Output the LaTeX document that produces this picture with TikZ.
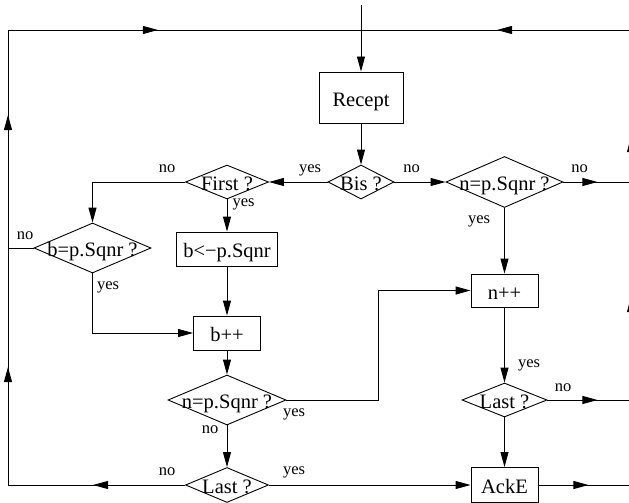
\documentclass[tikz,border=0pt]{standalone}
\usepackage{fontspec}
\setmainfont{Liberation Serif}
\usetikzlibrary{arrows.meta,shapes.geometric,decorations.markings}
\newcommand\zc[1]{\makebox[0pt]{#1}}
\newcommand\nodefnt{\fontsize{20.5}{24}\selectfont}
\newcommand\lblfnt{\fontsize{16.5}{20}\selectfont}
\begin{document}
\begin{tikzpicture}[x=1pt,y=-1pt,line width=0.9pt,
  >={Triangle[length=15pt,width=8pt]},
  box/.style={draw,rectangle,inner sep=0pt,text height=17pt,text depth=0pt,font=\nodefnt},
  dia/.style={draw,diamond,shape aspect=2,inner sep=0pt,text height=17pt,text depth=0pt,font=\nodefnt},
  lbl/.style={inner sep=0pt,anchor=base,font=\lblfnt},
  mid/.style={decoration={markings,mark=at position #1 with {\arrow{>}}},postaction={decorate}}]
\useasboundingbox (0,0) rectangle (629,503);
\clip (0,0) rectangle (629,503);
% nodes
\node[box,minimum width=84pt,minimum height=51pt] (recept) at (361,97.5) {Recept};
\node[dia,minimum width=66pt,minimum height=34pt] (bis) at (361,182) {\zc{Bis ?}};
\node[dia,minimum width=117pt,minimum height=51pt] (np1) at (504.5,182) {\zc{n=p.Sqnr ?}};
\node[dia,minimum width=83pt,minimum height=34pt] (first) at (227,182) {\zc{First ?}};
\node[dia,minimum width=117pt,minimum height=50pt] (bp) at (92.5,248) {\zc{b=p.Sqnr ?}};
\node[box,minimum width=101pt,minimum height=34pt] (bl) at (227,249) {b<−p.Sqnr};
\node[box,minimum width=67pt,minimum height=34pt] (bpp) at (227,333) {b++};
\node[dia,minimum width=118pt,minimum height=50pt] (np2) at (227,400) {\zc{n=p.Sqnr ?}};
\node[dia,minimum width=83pt,minimum height=35pt] (last2) at (227,485) {\zc{Last ?}};
\node[box,minimum width=67pt,minimum height=33pt] (npp) at (504.5,290.5) {n++};
\node[dia,minimum width=85pt,minimum height=34pt] (last) at (504.5,400) {\zc{Last ?}};
\node[box,minimum width=67pt,minimum height=35pt] (acke) at (504.5,485) {AckE};
% coordinates
\coordinate (in) at (361,5);
\coordinate (J) at (361,30);
\coordinate (TL) at (8,30);
\coordinate (BL) at (8,485);
\coordinate (TR) at (631,30);
\coordinate (BR) at (631,485);
\coordinate (K) at (378,400);
% connectors
\draw[->] (in) -- (recept.north);
\draw[->] (recept.south) -- (bis.north);
\draw[->] (bis.west) -- (first.east);
\draw[->] (bis.east) -- (np1.west);
\draw[mid=34pt] (np1.east) -- (np1.east -| TR);
\draw[->] (np1.south) -- (npp.north);
\draw[->] (first.west) -| (bp.north);
\draw[->] (first.south) -- (bl.north);
\draw (bp.west) -- (bp.west -| BL);
\draw[->] (bp.south) |- (bpp.west);
\draw[->] (bl.south) -- (bpp.north);
\draw[->] (bpp.south) -- (np2.north);
\draw[->] (np2.east) -- (K) |- (npp.west);
\draw[->] (np2.south) -- (last2.north);
\draw[decoration={markings,
    mark=at position 92pt with {\arrow{>}},
    mark=at position 295pt with {\arrow{>}},
    mark=at position 547pt with {\arrow{>}},
    mark=at position 782pt with {\arrow{>}}},postaction={decorate}]
  (last2.west) -- (BL) -- (TL) -- (J);
\draw[->] (last2.east) -- (acke.west);
\draw[->] (npp.south) -- (last.north);
\draw[mid=50pt] (last.east) -- (last.east -| TR);
\draw[->] (last.south) -- (acke.north);
\draw[mid=50pt] (acke.east) -- (BR);
\draw[decoration={markings,
    mark=at position 188pt with {\arrow{>}},
    mark=at position 348pt with {\arrow{>}},
    mark=at position 589pt with {\arrow{>}}},postaction={decorate}]
  (BR) -- (TR) -- (J);
% labels
\node[lbl] at (310,172) {yes};
\node[lbl] at (411.5,172) {no};
\node[lbl] at (579.5,172) {no};
\node[lbl] at (479,223) {yes};
\node[lbl] at (167,172) {no};
\node[lbl] at (243.5,206) {yes};
\node[lbl] at (25,239) {no};
\node[lbl] at (108,289) {yes};
\node[lbl] at (294,416) {yes};
\node[lbl] at (210,433) {no};
\node[lbl] at (167,475) {no};
\node[lbl] at (294,474) {yes};
\node[lbl] at (529,367) {yes};
\node[lbl] at (563,391) {no};
\end{tikzpicture}
\end{document}
